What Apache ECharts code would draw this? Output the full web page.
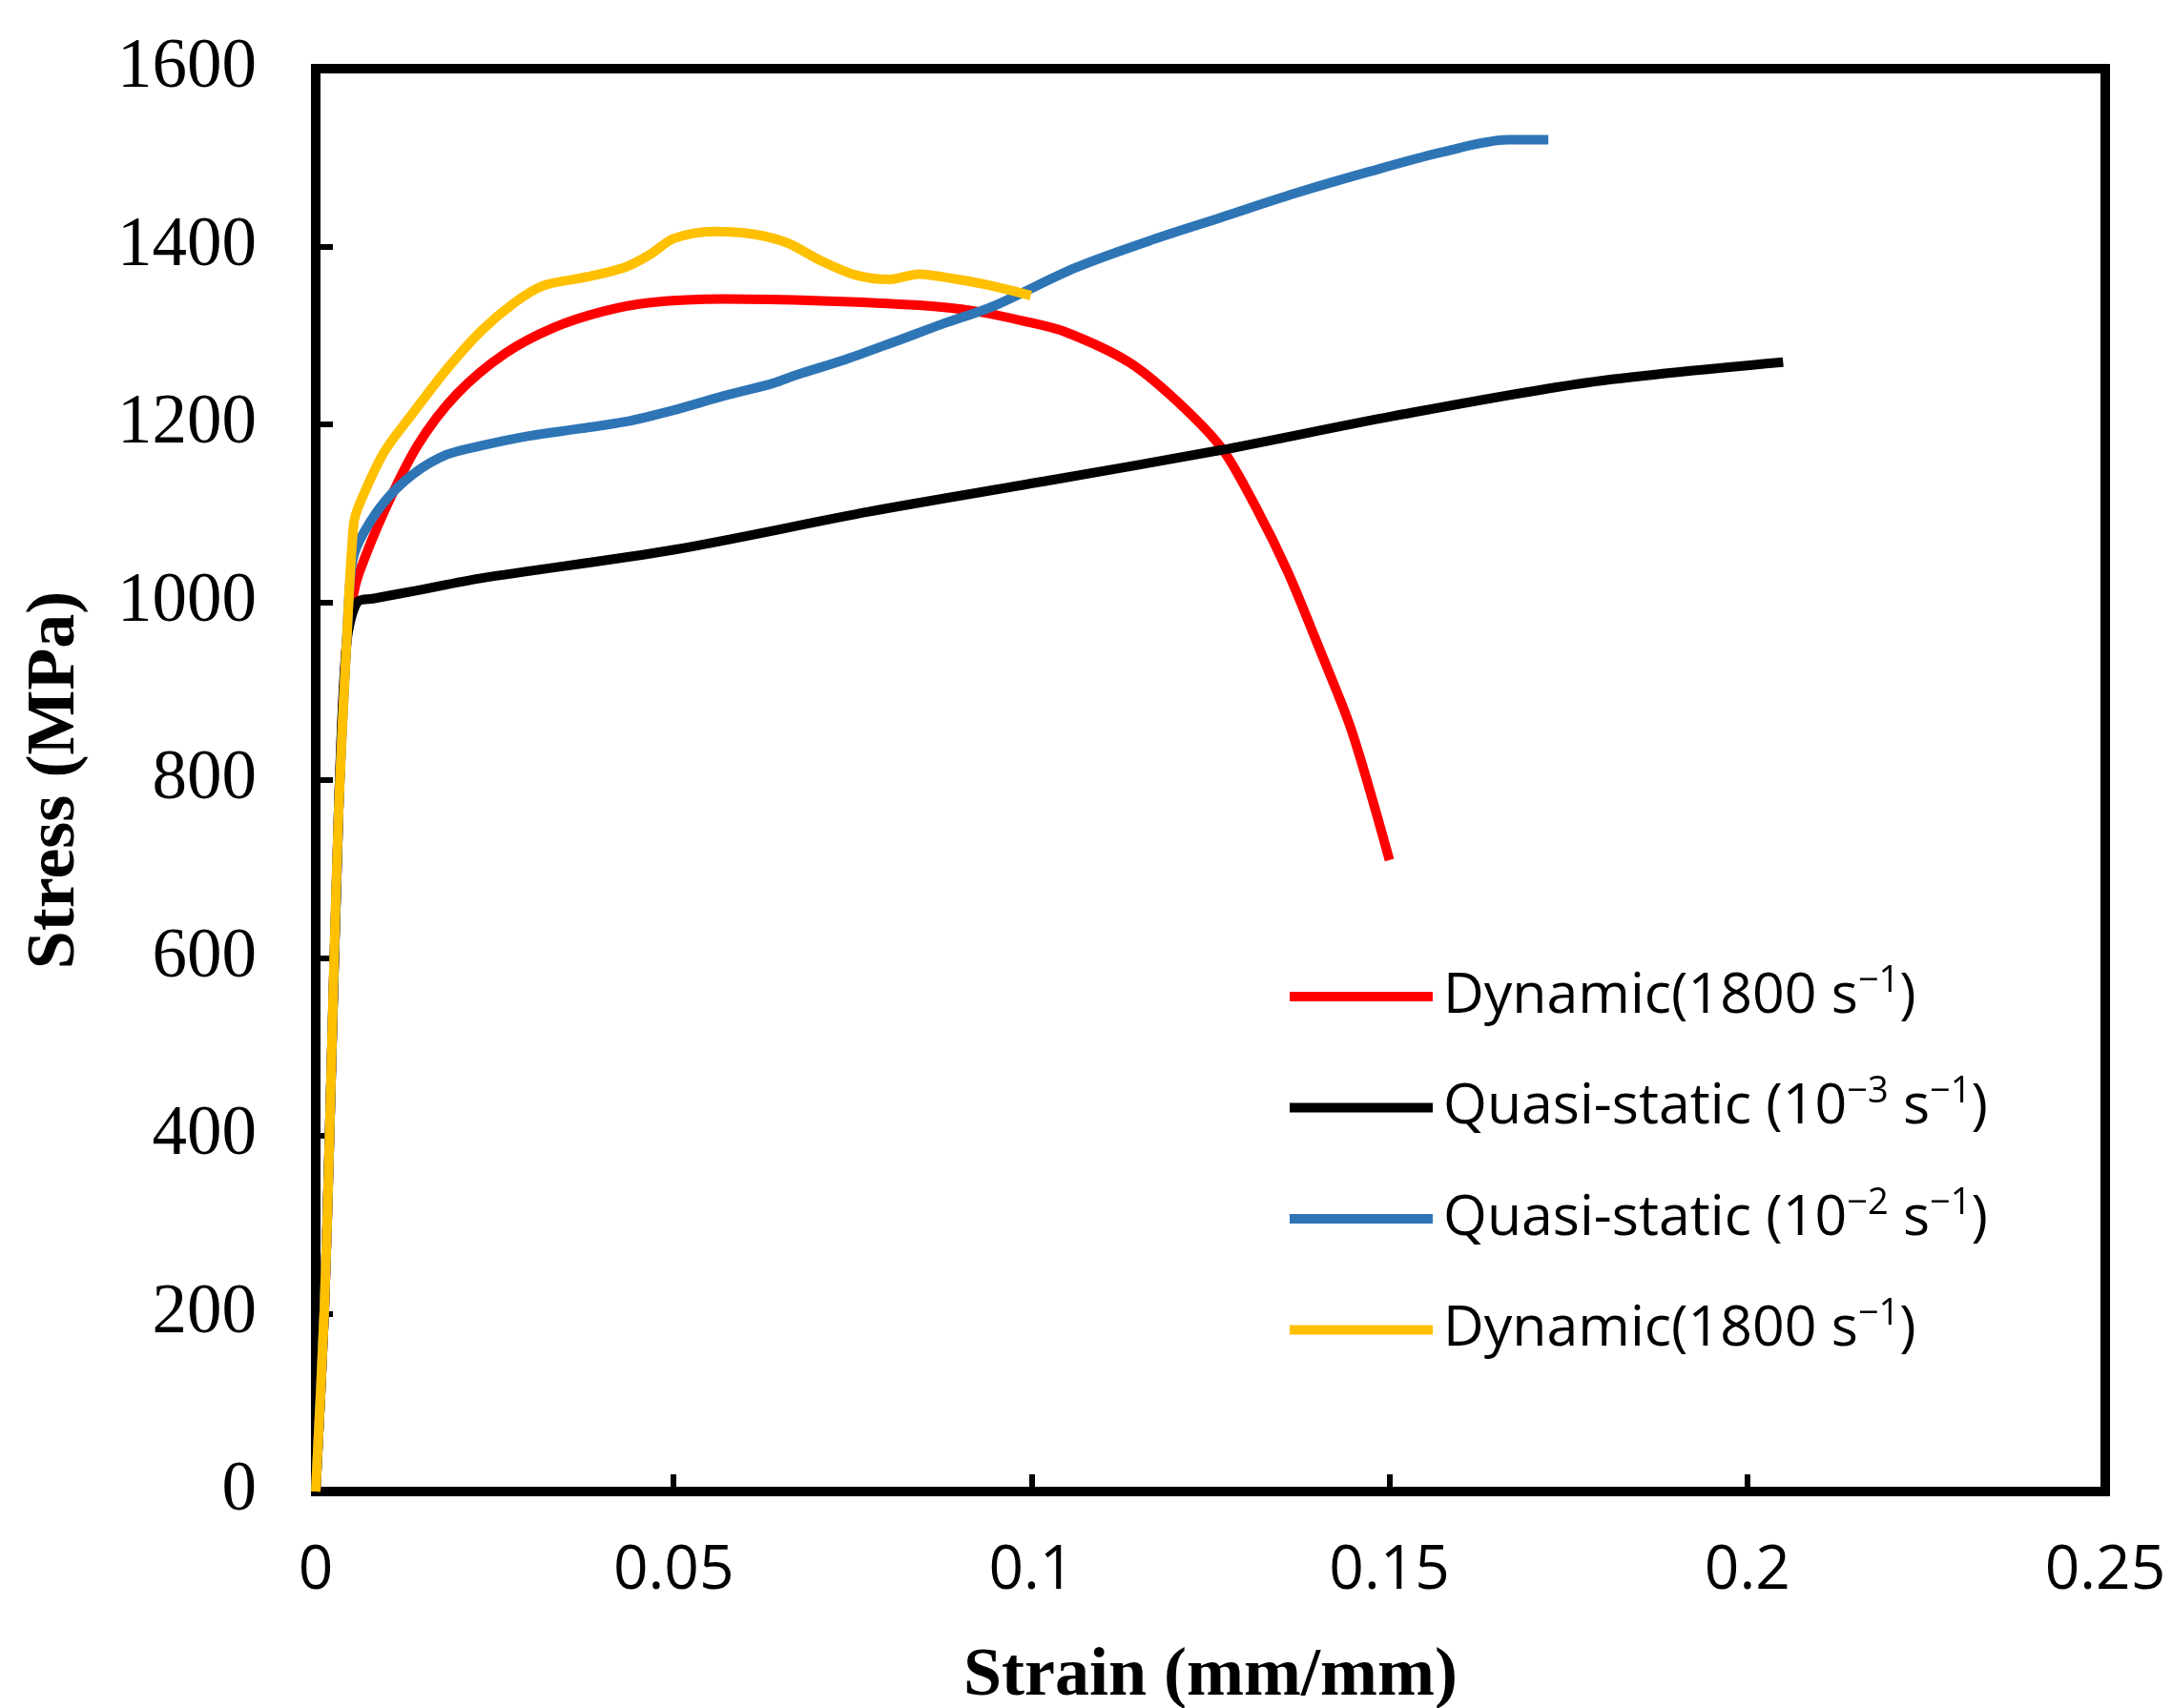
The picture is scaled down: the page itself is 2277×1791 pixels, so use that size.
<!DOCTYPE html>
<html>
<head>
<meta charset="utf-8">
<script src="https://cdn.jsdelivr.net/npm/echarts@6/dist/echarts.min.js"></script>
<style>
  html, body { margin: 0; padding: 0; background: #fff; }
  #chart { width: 2277px; height: 1791px; }
</style>
</head>
<body>
<div id="chart"></div>
<script>
// axis ticks
var xTicks = [0, 0.05, 0.1, 0.15, 0.2, 0.25]
var yTicks = [0, 200, 400, 600, 800, 1000, 1200, 1400, 1600]

// Dynamic (red)
var redStrain = [0, 0.0012, 0.0019, 0.0032, 0.0043, 0.0053, 0.0061, 0.0095, 0.0142, 0.0197, 0.0265, 0.0333, 0.0401, 0.0468, 0.057, 0.0706, 0.0842, 0.0924, 0.0990, 0.1047, 0.1136, 0.1202, 0.1265, 0.1314, 0.1358, 0.1402, 0.1447, 0.150]
var redStress = [0, 204, 391, 766, 953, 1010, 1034, 1101, 1176, 1234, 1280, 1309, 1327, 1337, 1341, 1339, 1334, 1327, 1316, 1304, 1270, 1227, 1174, 1106, 1034, 948, 856, 710]

// Quasi-static 10^-3 (black)
var blackStrain = [0, 0.0012, 0.0019, 0.0032, 0.0043, 0.0058, 0.0080, 0.0140, 0.0231, 0.050, 0.0774, 0.1025, 0.1264, 0.1503, 0.1776, 0.205]
var blackStress = [0, 204, 391, 766, 953, 1000, 1004, 1013, 1027, 1059, 1102, 1137, 1171, 1209, 1247, 1270]

// Quasi-static 10^-2 (blue)
var blueStrain = [0, 0.0012, 0.0019, 0.0032, 0.0043, 0.0050, 0.0061, 0.0095, 0.0136, 0.0183, 0.0231, 0.0298, 0.0367, 0.0433, 0.05, 0.057, 0.0638, 0.0673, 0.074, 0.0809, 0.0876, 0.0944, 0.1061, 0.1163, 0.1266, 0.1369, 0.1471, 0.1573, 0.1666, 0.1722]
var blueStress = [0, 204, 391, 766, 953, 1040, 1069, 1112, 1144, 1166, 1176, 1187, 1195, 1203, 1216, 1232, 1246, 1256, 1273, 1293, 1313, 1332, 1376, 1406, 1433, 1460, 1484, 1506, 1520, 1520]

// Dynamic (yellow)
var yellowStrain = [0, 0.0012, 0.0019, 0.0025, 0.0032, 0.0043, 0.0053, 0.0061, 0.0095, 0.0136, 0.0183, 0.0231, 0.0278, 0.0318, 0.038, 0.0433, 0.0467, 0.05, 0.0557, 0.0611, 0.0659, 0.0706, 0.0754, 0.0802, 0.0842, 0.0897, 0.0944, 0.0999]
var yellowStress = [0, 204, 391, 579, 766, 953, 1088, 1110, 1168, 1213, 1262, 1305, 1337, 1356, 1366, 1377, 1391, 1409, 1417, 1414, 1404, 1384, 1368, 1363, 1369, 1363, 1356, 1345]

// legend names (the 4th has a trailing space so it stays a separate item)
var seriesNames = ['Dynamic(1800 s-1)', 'Quasi-static (10-3 s-1)', 'Quasi-static (10-2 s-1)', 'Dynamic(1800 s-1) ']
var legendRich = [
  '{t|Dynamic(1800 s}{sup|−1}{t|)}',
  '{t|Quasi-static (10}{sup|−3}{t| s}{sup|−1}{t|)}',
  '{t|Quasi-static (10}{sup|−2}{t| s}{sup|−1}{t|)}',
  '{t|Dynamic(1800 s}{sup|−1}{t|)}'
]
var colors = ['#FF0000', '#000000', '#2E75B6', '#FFC000']

function zip (xs, ys) {
  var out = []
  for (var i = 0; i < xs.length; i++) out.push([xs[i], ys[i]])
  return out
}

var allData = [
  zip(redStrain, redStress),
  zip(blackStrain, blackStress),
  zip(blueStrain, blueStress),
  zip(yellowStrain, yellowStress)
]

var myChart = echarts.init(document.getElementById('chart'))

var series = seriesNames.map(function (name, i) {
  return {
    name: name,
    type: 'line',
    data: allData[i],
    showSymbol: false,
    smooth: 0.3,
    lineStyle: { color: colors[i], width: 10 },
    itemStyle: { color: colors[i] }
  }
})

var option = {
  backgroundColor: '#fff',
  animation: false,
  grid: {
    left: 331,
    right: 70,
    top: 72,
    bottom: 227,
    outerBoundsMode: 'none',
    show: true,
    borderColor: '#000',
    borderWidth: 10
  },
  legend: {
    orient: 'vertical',
    left: 1347,
    top: 1005,
    icon: 'rect',
    itemWidth: 150,
    itemHeight: 10,
    itemGap: 52,
    data: seriesNames,
    formatter: function (name) {
      return legendRich[seriesNames.indexOf(name)]
    },
    textStyle: {
      padding: [0, 0, 0, 6],
      rich: {
        t: { fontFamily: 'Open Sans', fontSize: 59, color: '#000', lineHeight: 70 },
        sup: { fontFamily: 'Open Sans', fontSize: 38, color: '#000', lineHeight: 36, verticalAlign: 'top' }
      }
    }
  },
  xAxis: {
    type: 'value',
    min: 0,
    max: 0.25,
    interval: 0.05,
    name: 'Strain (mm/mm)',
    nameLocation: 'middle',
    nameGap: 158,
    nameTextStyle: { fontFamily: 'Liberation Serif', fontWeight: 'bold', fontSize: 72, color: '#000' },
    axisLine: { show: true, lineStyle: { color: '#000', width: 10 } },
    axisTick: { show: true, inside: true, length: 18, lineStyle: { color: '#000', width: 6 } },
    axisLabel: {
      margin: 52,
      fontFamily: 'Open Sans',
      fontSize: 64,
      color: '#000',
      formatter: function (v) { return String(+v.toFixed(2)) }
    },
    splitLine: { show: false }
  },
  yAxis: {
    type: 'value',
    min: 0,
    max: 1600,
    interval: 200,
    name: 'Stress (MPa)',
    nameLocation: 'middle',
    nameGap: 237,
    nameTextStyle: { fontFamily: 'Liberation Serif', fontWeight: 'bold', fontSize: 72, color: '#000' },
    axisLine: { show: true, lineStyle: { color: '#000', width: 10 } },
    axisTick: { show: true, inside: true, length: 18, lineStyle: { color: '#000', width: 6 } },
    axisLabel: {
      margin: 62,
      fontFamily: 'Liberation Serif',
      fontSize: 73,
      color: '#000',
      formatter: function (v) { return String(v) }
    },
    splitLine: { show: false }
  },
  series: series
}

myChart.setOption(option)
</script>
</body>
</html>
